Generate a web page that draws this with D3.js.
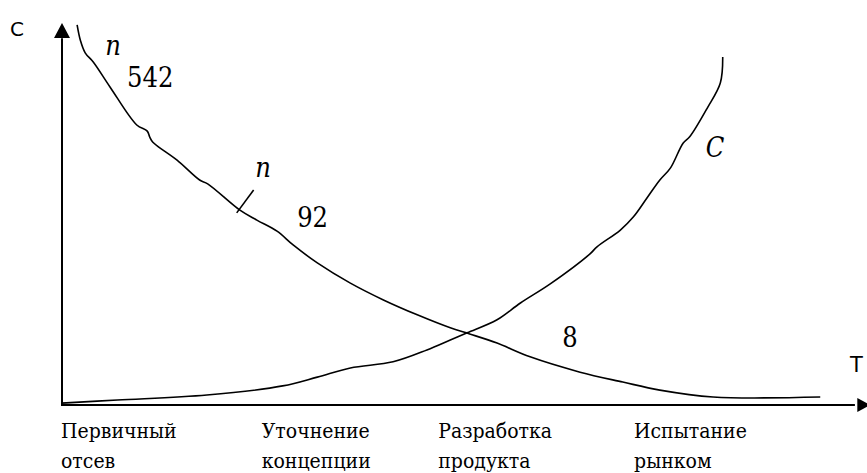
<!DOCTYPE html>
<html>
<head>
<meta charset="utf-8">
<script src="https://cdnjs.cloudflare.com/ajax/libs/d3/7.8.5/d3.min.js"></script>
<style>
  body { margin: 0; background: #fff; }
  svg { display: block; }
</style>
</head>
<body>
<svg width="867" height="473"></svg>
<script>
// stages along T
var stages = [["Первичный", "отсев"], ["Уточнение", "концепции"], ["Разработка", "продукта"], ["Испытание", "рынком"]];
var stagePos = [0, 24.9, 46.8, 71.1];

// n - number of ideas left (0..100 units)
var nX = [2.0, 2.4, 3.0, 4.0, 6.1, 9.4, 10.7, 11.0, 11.4, 14.4, 17.2, 18.2, 22.2, 24.3, 26.8, 28.8, 31.8, 35.9, 40.0, 44.2, 48.3, 50.7, 54.1, 58.2, 64.4, 69.7, 74.3, 80.9, 94.2];
var nY = [99.5, 95.5, 92.2, 89.8, 83.2, 73.3, 71.7, 70.2, 68.8, 64.1, 58.9, 57.9, 51.0, 48.4, 45.5, 41.9, 37.2, 31.9, 27.5, 23.6, 20.2, 18.6, 16.2, 12.6, 8.6, 6.0, 3.9, 2.1, 2.1];

// C - cost
var cX = [0.1, 7.0, 18.1, 27.5, 31.8, 35.9, 41.2, 45.4, 48.3, 50.4, 54.1, 57.0, 60.7, 65.6, 66.5, 69.4, 71.0, 72.7, 74.3, 75.6, 77.2, 78.0, 80.2, 81.8, 82.1];
var cY = [0.5, 1.3, 2.6, 5.0, 7.3, 9.7, 11.3, 14.4, 17.0, 18.9, 22.3, 26.7, 31.7, 39.5, 41.4, 45.8, 49.2, 54.2, 58.9, 62.0, 68.6, 70.2, 77.8, 84.3, 91.1];

// numbers written next to the n curve
var counts = ["542", "92", "8"];

var svg = d3.select("svg"),
    width = +svg.attr("width"),
    height = +svg.attr("height");

var serif = "'DejaVu Serif Condensed', 'DejaVu Serif', serif";
var sans = "'DejaVu Sans', sans-serif";

var x = d3.scaleLinear().domain([0, 100]).range([61, 867]);
var y = d3.scaleLinear().domain([0, 100]).range([405, 23]);

var line = d3.line()
    .x(function(d) { return x(d[0]); })
    .y(function(d) { return y(d[1]); })
    .curve(d3.curveCatmullRom.alpha(0.5));

var nData = nX.map(function(v, i) { return [v, nY[i]]; });
var cData = cX.map(function(v, i) { return [v, cY[i]]; });

// axes
svg.append("line")
    .attr("x1", x(0) + 1).attr("x2", x(0) + 1)
    .attr("y1", y(0)).attr("y2", y(96))
    .attr("stroke", "#000").attr("stroke-width", 2);
svg.append("path")
    .attr("d", "M" + (x(0) + 1) + "," + y(100) + "L" + (x(0) - 7) + "," + (y(100) + 15) + "L" + (x(0) + 9) + "," + (y(100) + 15) + "Z")
    .attr("fill", "#000");

svg.append("line")
    .attr("x1", x(0)).attr("x2", x(98.5))
    .attr("y1", y(0)).attr("y2", y(0))
    .attr("stroke", "#000").attr("stroke-width", 2);
svg.append("path")
    .attr("d", "M" + (x(100) + 3) + "," + y(0) + "L" + (x(98.8)) + "," + (y(0) - 7) + "L" + (x(98.8)) + "," + (y(0) + 7) + "Z")
    .attr("fill", "#000");

svg.append("text")
    .attr("x", 10).attr("y", 36)
    .attr("font-family", sans)
    .attr("font-size", 20)
    .text("C");
svg.append("text")
    .attr("x", 850).attr("y", 372)
    .attr("font-family", sans)
    .attr("font-size", 21)
    .text("T");

// curves
svg.append("path")
    .datum(nData)
    .attr("d", line)
    .attr("fill", "none").attr("stroke", "#000").attr("stroke-width", 1.6);
svg.append("path")
    .datum(cData)
    .attr("d", line)
    .attr("fill", "none").attr("stroke", "#000").attr("stroke-width", 1.6);

// small stroke across n
svg.append("line")
    .attr("x1", x(21.8)).attr("y1", y(50.3))
    .attr("x2", x(23.9)).attr("y2", y(56.3))
    .attr("stroke", "#000").attr("stroke-width", 1.6);

var notes = [
  {t: "n", x: 5.5, y: 91.6, it: true},
  {t: counts[0], x: 8.2, y: 83.2},
  {t: "n", x: 24.1, y: 59.7, it: true},
  {t: counts[1], x: 29.3, y: 46.6},
  {t: counts[2], x: 62.2, y: 15.2},
  {t: "C", x: 80.0, y: 64.9, it: true}
];

svg.append("g").selectAll("text")
    .data(notes)
  .enter().append("text")
    .attr("x", function(d) { return x(d.x); })
    .attr("y", function(d) { return y(d.y); })
    .attr("font-family", serif)
    .attr("font-stretch", "condensed")
    .attr("font-size", 27)
    .attr("font-style", function(d) { return d.it ? "italic" : "normal"; })
    .text(function(d) { return d.t; });

// stage names under the T axis
var lbl = svg.append("g").selectAll("text")
    .data(stages)
  .enter().append("text")
    .attr("x", function(d, i) { return x(stagePos[i]); })
    .attr("y", 438)
    .attr("font-family", serif)
    .attr("font-stretch", "condensed")
    .attr("font-size", 21);

lbl.append("tspan")
    .text(function(d) { return d[0]; });
lbl.append("tspan")
    .attr("x", function(d, i) { return x(stagePos[i]); })
    .attr("dy", 30)
    .text(function(d) { return d[1]; });
</script>
</body>
</html>
